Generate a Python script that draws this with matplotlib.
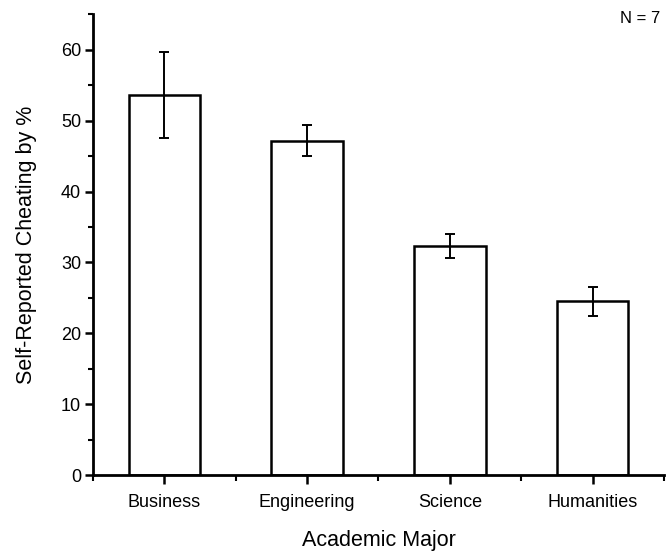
import numpy as np
import matplotlib.pyplot as plt
from matplotlib.ticker import MultipleLocator

majors = ['Business', 'Engineering', 'Science', 'Humanities']
cheating_pct = [53.6, 47.2, 32.3, 24.5]
err_pct = [6.1, 2.2, 1.7, 2.1]

plt.rcParams['font.family'] = ['Liberation Sans', 'DejaVu Sans']

fig = plt.figure(figsize=(6.69, 5.55), dpi=100)
ax = fig.add_axes([0.139, 0.1441, 0.8535, 0.830])

x = np.arange(1, len(majors) + 1)
ax.bar(x, cheating_pct, width=0.5, color='white', edgecolor='black', linewidth=1.8, zorder=2)
ax.errorbar(x, cheating_pct, yerr=err_pct, fmt='none', ecolor='black',
            elinewidth=1.4, capsize=3.9, capthick=1.4, zorder=3)

ax.set_xlim(0.5, 4.5)
ax.set_ylim(0, 65)
ax.set_xticks(x)
ax.set_xticklabels(majors)
ax.xaxis.set_minor_locator(MultipleLocator(0.5))
ax.yaxis.set_major_locator(MultipleLocator(10))
ax.yaxis.set_minor_locator(MultipleLocator(5))

for s in ['top', 'right']:
    ax.spines[s].set_visible(False)
for s in ['left', 'bottom']:
    ax.spines[s].set_linewidth(2)

ax.tick_params(axis='both', which='major', width=1.8, labelsize=13)
ax.tick_params(axis='both', which='minor', width=1.5)
ax.tick_params(axis='x', which='major', length=6.5, pad=7)
ax.tick_params(axis='x', which='minor', length=4.5)
ax.tick_params(axis='y', which='major', length=5.5, pad=3)
ax.tick_params(axis='y', which='minor', length=3.5)

ax.set_xlabel('Academic Major', fontsize=15.5, labelpad=14)
ax.set_ylabel('Self-Reported Cheating by %', fontsize=15.5, labelpad=17)

fig.text(0.9865, 0.9667, 'N = 7', ha='right', va='center', fontsize=12)

fig.savefig('out.png', dpi=100)
